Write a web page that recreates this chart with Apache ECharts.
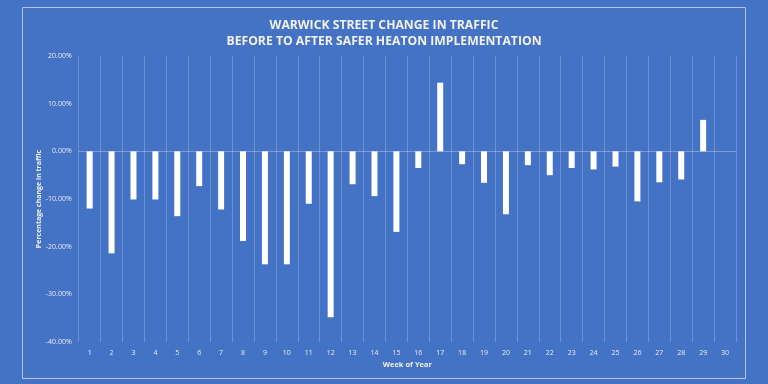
<!DOCTYPE html>
<html>
<head>
<meta charset="utf-8">
<script src="https://cdn.jsdelivr.net/npm/echarts@6/dist/echarts.min.js"></script>
<style>
html,body{margin:0;padding:0;background:#4472C4;}
#c{width:768px;height:384px;}
</style>
</head>
<body>
<div id="c"></div>
<script>
var weeks = ['1','2','3','4','5','6','7','8','9','10','11','12','13','14','15','16','17','18','19','20','21','22','23','24','25','26','27','28','29','30'];
var change = [-12.0,-21.4,-10.1,-10.1,-13.6,-7.3,-12.2,-18.8,-23.7,-23.7,-11.0,-34.8,-6.9,-9.4,-16.9,-3.5,14.4,-2.7,-6.6,-13.2,-2.9,-5.0,-3.5,-3.8,-3.2,-10.5,-6.5,-5.9,6.6,null];
var titleLines = ['WARWICK STREET CHANGE IN TRAFFIC','BEFORE TO AFTER SAFER HEATON IMPLEMENTATION'];

var chart = echarts.init(document.getElementById('c'), null, {renderer:'canvas'});
chart.setOption({
  backgroundColor:'#4472C4',
  animation:false,
  graphic:[{
    type:'rect', silent:true,
    shape:{x:22.5,y:7.5,width:723,height:371},
    style:{fill:'none',stroke:'#b4c7e7',lineWidth:1}
  }],
  title:{
    text:titleLines.join('\n'),
    left:'center', top:13,
    textStyle:{color:'#f2f2f2',fontSize:12.2,fontWeight:'bold',fontFamily:'Open Sans',lineHeight:16}
  },
  grid:{left:78.7,right:32,top:56,bottom:42},
  xAxis:{
    type:'category', data:weeks,
    name:'Week of Year', nameLocation:'middle', nameGap:16,
    nameTextStyle:{color:'#f2f2f2',fontSize:7.5,fontWeight:'bold',fontFamily:'Open Sans'},
    axisLine:{show:false,onZero:false},
    axisTick:{show:false},
    axisLabel:{color:'#e8edf7',fontSize:7,fontFamily:'Open Sans',margin:7},
    splitLine:{show:true,interval:0,lineStyle:{color:'rgba(255,255,255,0.22)',width:1}}
  },
  yAxis:{
    type:'value', min:-40, max:20, interval:10,
    name:'Percentage change in traffic', nameLocation:'middle', nameGap:36, nameRotate:90,
    nameMoveOverlap:false,
    nameTextStyle:{color:'#f2f2f2',fontSize:7,fontWeight:'bold',fontFamily:'Open Sans'},
    axisLine:{show:false}, axisTick:{show:false},
    splitLine:{show:false},
    axisLabel:{color:'#e8edf7',fontSize:7,fontFamily:'Open Sans',margin:7,
      formatter:function(v){return v.toFixed(2)+'%';}}
  },
  series:[{
    type:'bar', data:change, barWidth:6,
    itemStyle:{color:'#ffffff'},
    markLine:{
      silent:true, symbol:'none', label:{show:false},
      lineStyle:{color:'rgba(255,255,255,0.3)',type:'solid',width:1},
      data:[{yAxis:0}]
    }
  }]
});
</script>
</body>
</html>
